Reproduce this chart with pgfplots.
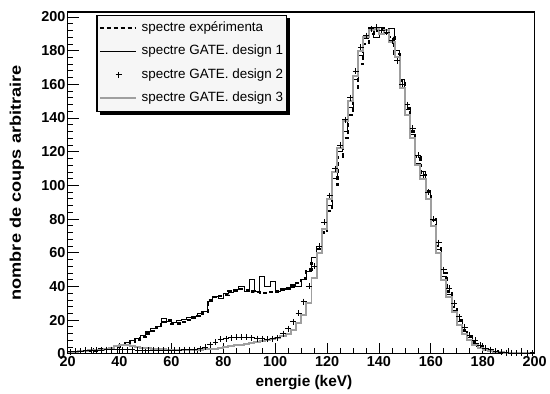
\documentclass[border=0pt]{standalone}
\usepackage{pgfplots}
\pgfplotsset{compat=1.18}
\usepackage{pgfplotstable}
\usepackage{fontspec}
\setmainfont{Liberation Sans}

\pgfplotsset{
  linelegend/.style={legend image code/.code={\draw[##1] (0pt,0pt) -- (36pt,0pt);}},
  marklegend/.style={legend image code/.code={\draw[##1] plot coordinates {(19pt,0pt)}; \path (0pt,0pt); \path (36pt,0pt);}},
}

\pgfplotstableread{
x exp d1 d3
20 1 1.5 1
22 1 1 1
24 1.5 2 1.5
26 1.5 1.5 1.5
28 2 2.5 2
30 2 2 2
32 2.5 3 2.5
34 3 3 3
36 3.5 4 3.5
38 4 5 4.5
40 5 5.5 5.5
42 6 6.5 5
44 7 8 4.5
46 8.5 9 4
48 10 11 3.5
50 12 13 3.5
52 13.5 15 3
54 15.5 16 3
56 19 21 3
58 20 19 2.5
60 17.5 18.5 2.5
62 18 20 2.5
64 19 20.5 2.5
66 20 21.5 2.5
68 21.5 22 2.5
70 22.5 24 2.5
72 25 25 3
74 32 31 3
76 33.5 34 3
78 34.5 33 3.5
80 35 36 4
82 37 36.5 4.5
84 37.5 38 5
86 38.5 40 5.5
88 38 37 6
90 37 44 6.5
92 36.5 37 7
94 36 46 7.5
96 36 40 8
98 36.5 43 8.5
100 37 37 9.5
102 38 39 10.5
104 39 38 12
106 40 41 14
108 42 40 18
110 45 44 23
112 50 49 30
114 54 57 45
116 62 64 60
118 72 74 74
120 85 88 92
122 100 104 108
124 117 120 122
126 128 132 138
128 142 146 150
130 158 163 165
132 172 177 180
134 184 187 188
136 190 194 192
138 192 188 193
140 193 194 190
142 193 190 192
144 188 193 185
146 178 180 176
148 162 163 158
150 146 145 142
152 132 130 128
154 117 113 112
156 106 108 104
158 96 97 92
160 80 79 76
162 64 62 60
164 48 46 44
166 37 35 34
168 28 26 25
170 20 19 17
172 14 13 12
174 10 9.5 8
176 7 6 5.5
178 4.5 4 3.5
180 3 3 2.5
182 2 2 1.5
184 1.5 1.5 1
186 1 1 0.8
188 0.7 0.5 0.5
190 0.5 0.5 0.4
192 0.4 0.4 0.3
194 0.3 0.3 0.2
196 0.3 0.2 0.2
198 0.2 0.2 0.1
200 0.2 0.2 0.1
}\histdata

\pgfplotstableread{
x d2
21 1.2
23 1.5
25 1.5
27 2
29 2
31 2
33 2
35 2.5
37 2.5
39 2.5
41 2.5
43 2.5
45 2.5
47 2
49 2
51 2
53 2
55 2
57 2
59 2
61 2
63 2
65 2.5
67 2.5
69 2.5
71 3
73 4
75 5.5
77 7
79 8.5
81 9
83 9.5
85 10
87 10
89 10
91 9.5
93 9
95 9
97 8.5
99 9
101 9.5
103 12
105 15
107 19
109 24
111 31
113 40
115 52
117 64
119 78
121 94
123 110
125 124
127 139
129 152
131 168
133 182
135 189
137 193
139 194
141 192
143 191
145 186
147 174
149 160
151 148
153 134
155 118
157 106
159 96
161 80
163 66
165 50
167 39
169 30
171 22
173 16
175 11
177 8
179 5
181 3.5
183 2.5
185 1.5
187 1
189 0.7
191 0.5
193 0.4
195 0.3
197 0.3
199 0.2
}\designtwo

\begin{document}
\begin{tikzpicture}
\begin{axis}[
  scale only axis,
  width=470pt, height=344pt,
  xmin=20, xmax=200, ymin=0, ymax=203,
  xtick={20,40,...,200}, ytick={0,20,...,200},
  minor x tick num=3, minor y tick num=4,
  xtick pos=left, ytick pos=left,
  tick align=inside,
  axis line style={line width=1.3pt},
  every tick/.style={black, line width=0.8pt},
  major tick length=11pt, minor tick length=5.5pt,
  /pgf/number format/assume math mode=true,
  ticklabel style={font=\fontsize{14.5}{15}\selectfont\bfseries},
  yticklabel style={inner xsep=2pt},
  xticklabel style={inner ysep=2.5pt},
  xlabel={energie (keV)},
  ylabel={\scalebox{1.18}[1]{nombre de coups arbitraire}},
  xlabel style={font=\fontsize{15.5}{17}\selectfont\bfseries, at={(axis description cs:0.506,-0.0843)}, anchor=center},
  ylabel style={font=\fontsize{15.5}{17}\selectfont\bfseries, at={(axis description cs:-0.1085,0.5)}, anchor=center},
  legend cell align=left,
  legend style={name=leg, at={(axis description cs:0.062,0.991)}, anchor=north west,
    fill=gray!7, draw=black,
    font=\fontsize{13.5}{14}\selectfont,
    inner xsep=2pt, inner ysep=4.5pt, row sep=6.5pt, column sep=4pt,
    nodes={text height=10pt, text depth=3pt, inner ysep=2pt, inner xsep=1pt}},
]
\addplot[const plot, black, line width=2.2pt, dash pattern=on 4pt off 3pt, linelegend]
  table[x=x, y=exp] {\histdata};
\addlegendentry{spectre expérimenta}
\addplot[const plot, black, line width=0.9pt, linelegend]
  table[x=x, y=d1] {\histdata};
\addlegendentry{spectre GATE. design 1}
\addplot[only marks, mark=+, mark size=3pt, black, mark options={line width=0.7pt}, marklegend]
  table[x=x, y=d2] {\designtwo};
\addlegendentry{spectre GATE. design 2}
\addplot[const plot, gray!75, line width=2pt, linelegend]
  table[x=x, y=d3] {\histdata};
\addlegendentry{spectre GATE. design 3}
\end{axis}
\draw[line width=0.8pt] (leg.south west) rectangle (leg.north east);
\fill[black] ([xshift=3pt]leg.south west) rectangle ([xshift=3.5pt,yshift=-3.5pt]leg.south east);
\fill[black] ([yshift=-3pt]leg.north east) rectangle ([xshift=3.5pt,yshift=-3.5pt]leg.south east);
\path[use as bounding box] ([xshift=-68pt,yshift=-40pt]current axis.south west) rectangle ([xshift=12pt,yshift=12pt]current axis.north east);
\end{tikzpicture}
\end{document}
